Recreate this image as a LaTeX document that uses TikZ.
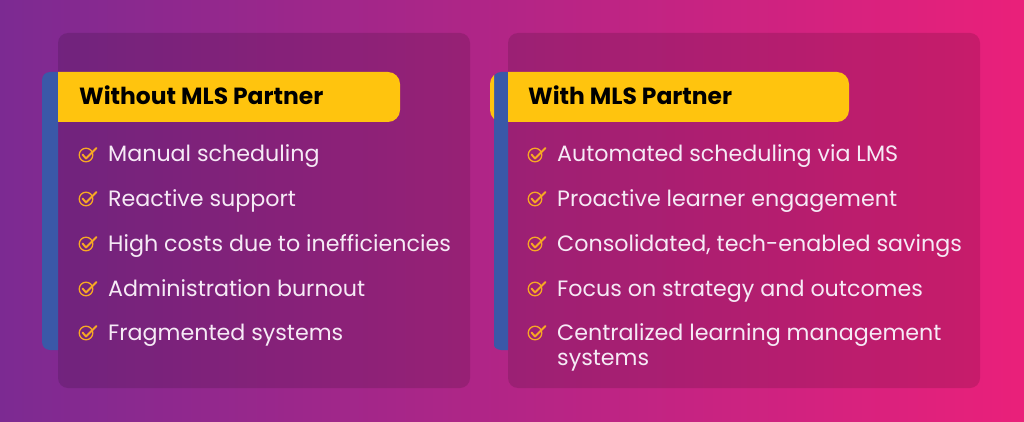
\documentclass[tikz,border=0pt]{standalone}
\usepackage{fontspec}
\setmainfont{Poppins}
\usetikzlibrary{positioning,calc}
\definecolor{bgleft}{RGB}{124,42,146}
\definecolor{bgmid}{RGB}{178,34,138}
\definecolor{bgright}{RGB}{234,32,122}
\definecolor{hdryellow}{RGB}{255,196,14}
\definecolor{barblue}{RGB}{58,88,168}
\definecolor{itemtext}{RGB}{246,234,246}
\definecolor{chkorange}{RGB}{247,168,36}
\tikzset{
  panel/.style={fill=black, fill opacity=0.13, rounded corners=10pt},
  hdrtext/.style={anchor=base west, inner sep=0pt, font=\fontsize{23.4}{28}\selectfont\bfseries, text=black},
  itemnode/.style={anchor=base west, inner sep=0pt, font=\fontsize{22.2}{25}\selectfont, text=itemtext, align=left},
  chk/.pic={
    \draw[chkorange, line width=1.3pt] (0,0) circle (6.8pt);
    \draw[chkorange, line width=1.9pt, line cap=round, line join=round] (-3.5,-0.5) -- (0,3.5) -- (10.5,-7);
  }
}
\begin{document}
\begin{tikzpicture}[x=1pt,y=-1pt]
            \useasboundingbox (0,0) rectangle (1024,422);
            \shade[left color=bgleft, middle color=bgmid, right color=bgright] (0,0) rectangle (1024,422);
            \fill[panel] (58,33) rectangle (470,388);
            \fill[panel] (508,33) rectangle (980,388);
            \begin{scope}
                \clip (0,0) rectangle (58,422) (494,0) rectangle (508,422);
                \fill[barblue, rounded corners=8pt] (42,72) rectangle (80,350);
                \fill[barblue, rounded corners=8pt] (493,72) rectangle (530,350);
            \end{scope}
            \begin{scope}
                \clip (58,0) rectangle (494,422) (508,0) rectangle (1024,422);
                \fill[hdryellow, rounded corners=12pt] (40,72) rectangle (400,122);
                \fill[hdryellow, rounded corners=12pt] (490,72) rectangle (849,122);
            \end{scope}
            \node[hdrtext] (hdrL) at (79,105) {Without MLS Partner};
            \node[hdrtext] (hdrR) at (528,105) {With MLS Partner};
            \node[itemnode] (L1) at (108,162) {Manual scheduling};
            \node[itemnode] (L2) at (108,206) {Reactive support};
            \node[itemnode] (L3) at (108,251) {High costs due to inefficiencies};
            \node[itemnode] (L4) at (108,296) {Administration burnout};
            \node[itemnode] (L5) at (108,340) {Fragmented systems};
            \node[itemnode] (R1) at (557,162) {Automated scheduling via LMS};
            \node[itemnode] (R2) at (557,206) {Proactive learner engagement};
            \node[itemnode] (R3) at (557,251) {Consolidated, tech-enabled savings};
            \node[itemnode] (R4) at (557,296) {Focus on strategy and outcomes};
            \node[itemnode] (R5) at (557,365) {Centralized learning management\\systems};
            \pic at (86,155) {chk};
            \pic at (86,199) {chk};
            \pic at (86,244) {chk};
            \pic at (86,289) {chk};
            \pic at (86,333) {chk};
            \pic at (535,155) {chk};
            \pic at (535,199) {chk};
            \pic at (535,244) {chk};
            \pic at (535,289) {chk};
            \pic at (535,333) {chk};
        \end{tikzpicture}
\end{document}
